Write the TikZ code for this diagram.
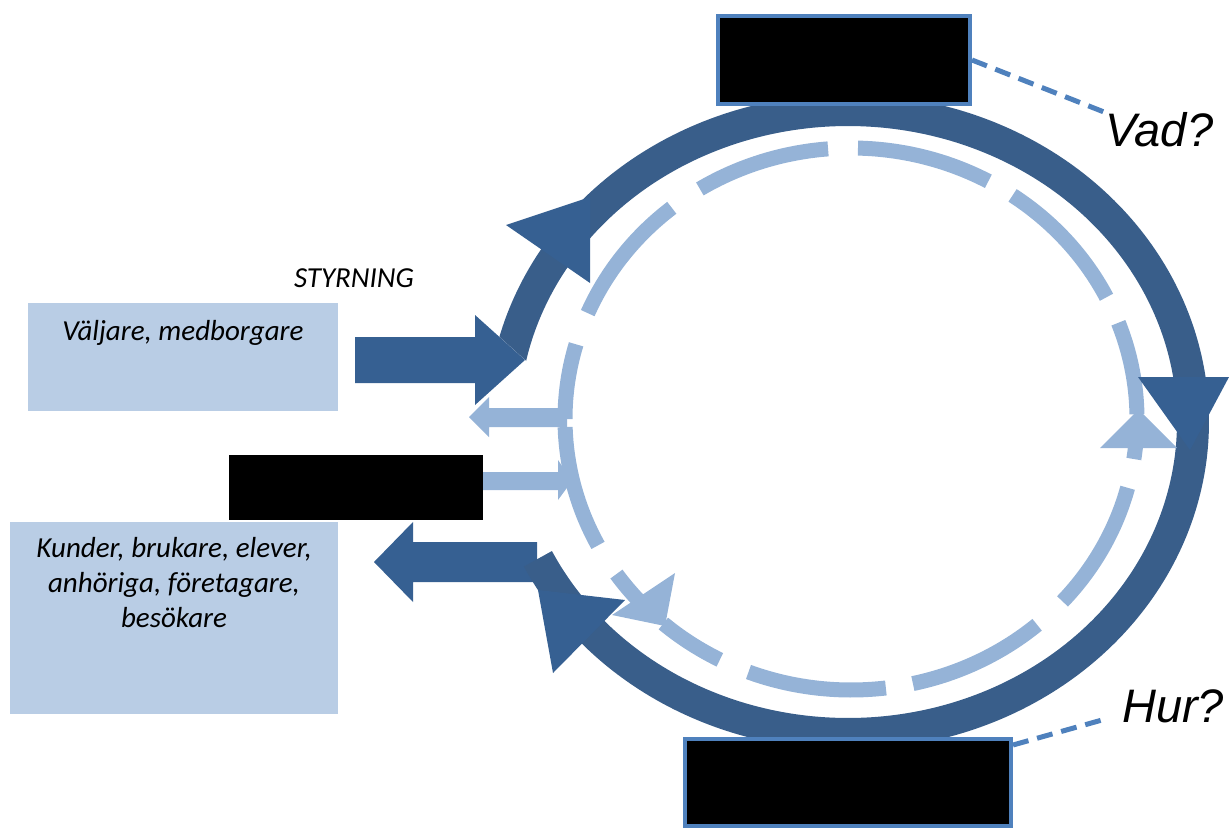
\documentclass[tikz,border=0pt]{standalone}
\usepackage{fontspec}
\setmainfont{Carlito}
\newfontfamily\arialfont{Liberation Sans}
\definecolor{ringdark}{RGB}{57,94,138}
\definecolor{arrdark}{RGB}{54,96,146}
\definecolor{ringlight}{RGB}{149,179,215}
\definecolor{boxfill}{RGB}{185,205,229}
\definecolor{accent}{RGB}{79,129,189}
\newcommand\lightdash[2]{\draw[lightband] plot[domain=#1:#2, samples=40] ({851+286*cos(\x)},{419+271*sin(\x)});}
\begin{document}
\begin{tikzpicture}[x=1pt,y=-1pt,
  lightband/.style={ringlight, line width=15pt},
  darkband/.style={ringdark, line width=32pt},
  blackbox/.style={fill=black, draw=accent, line width=4pt, inner sep=0pt},
  actorbox/.style={fill=boxfill, inner sep=0pt, anchor=north west},
  actortext/.style={font=\fontsize{29}{35}\selectfont\itshape, align=center, inner sep=0pt},
  question/.style={font=\arialfont\itshape\fontsize{47}{50}\selectfont, inner sep=0pt, anchor=base west},
  leader/.style={accent, line width=5pt, dash pattern=on 16pt off 9pt}]
\useasboundingbox (0,0) rectangle (1229,830);
% dark outgoing arrow (below ring)
\fill[arrdark] (537,542) -- (413,542) -- (413,522) -- (374,562) -- (413,602) -- (413,582) -- (537,582) -- cycle;
% dark ring
\draw[darkband] plot[domain=186:514, samples=300] ({848+345*cos(\x)},{422+312*sin(\x)});
\fill[white] (470,310.5) -- (545,378) -- (545,430) -- (470,430) -- cycle;
% light dashed ring
\lightdash{180}{196}
\lightdash{203}{231.2}
\lightdash{238.1}{265.4}
\lightdash{271.4}{298.7}
\lightdash{304.4}{333.3}
\lightdash{339.2}{359}
\lightdash{5}{8.5}
\lightdash{14.7}{42.3}
\lightdash{49.4}{77.5}
\lightdash{83}{111}
\lightdash{117.3}{131}
\lightdash{138}{145.1}
\lightdash{152.2}{178.3}
% light ring arrowheads
\fill[ringlight] (1100,448) -- (1177,448) -- (1138.5,409.5) -- cycle;
\fill[ringlight] (675,573) -- (612,615) -- (665,626) -- cycle;
% light arrows
\fill[ringlight] (567,408) -- (489,408) -- (489,397) -- (469,417) -- (489,437) -- (489,427) -- (567,427) -- cycle;
\fill[ringlight] (483,472) -- (558,472) -- (558,460) -- (572,481) -- (558,500) -- (558,490) -- (483,490) -- cycle;
% dark incoming arrow
\fill[arrdark] (355,337) -- (475,337) -- (475,315) -- (525,360) -- (475,405) -- (475,383) -- (355,383) -- cycle;
% dark ring arrowheads
\fill[arrdark] (506,225) -- (590,283) -- (590,197) -- cycle;
\fill[arrdark] (1138,377) -- (1229,377) -- (1190,450) -- cycle;
\fill[arrdark] (538,590) -- (553,673) -- (625,600) -- cycle;
% boxes
\node[blackbox, minimum width=252pt, minimum height=88pt] (topbox) at (844,60) {};
\node[blackbox, minimum width=326pt, minimum height=87pt] (bottombox) at (848,782.5) {};
\node[fill=black, inner sep=0pt, minimum width=254pt, minimum height=65pt] (midbox) at (356,487.5) {};
\node[actorbox, minimum width=310pt, minimum height=108pt] (valjbox) at (28,303) {};
\node[actorbox, minimum width=328pt, minimum height=192pt] (kundbox) at (10,522) {};
\node[actortext, anchor=base] (valjtext) at (183,340) {Väljare, medborgare};
\node[actortext, anchor=north] (kundtext) at (174,537) {Kunder, brukare, elever,\\anhöriga, företagare,\\besökare};
\node[actortext, anchor=base] (styrtext) at (354,287) {STYRNING};
% questions
\node[question] (vad) at (1105,146) {Vad?};
\node[question] (hur) at (1122,722) {Hur?};
\coordinate (vadend) at (1104,112);
\coordinate (hurend) at (1102,720);
\draw[leader] (topbox.east) -- (vadend);
\draw[leader] ([yshift=-8pt]bottombox.north east) -- (hurend);
\end{tikzpicture}
\end{document}
